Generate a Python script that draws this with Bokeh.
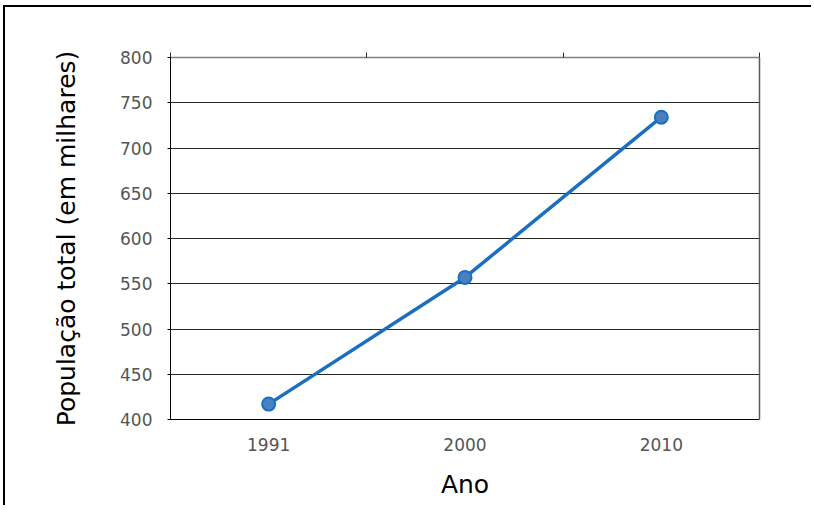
from bokeh.plotting import figure
from bokeh.models import (Range1d, FactorRange, LinearAxis, FixedTicker)
from bokeh.embed import file_html
from bokeh.resources import INLINE

years = ["1991", "2000", "2010"]
population = [417, 557, 734]
y_ticks = [400, 450, 500, 550, 600, 650, 700, 750, 800]

FONT = "DejaVu Sans"

p = figure(width=808, height=500, output_backend="svg", toolbar_location=None,
           x_range=FactorRange(*years, range_padding=0),
           y_range=Range1d(400, 800),
           min_border_left=165, min_border_right=54, min_border_top=50,
           min_border_bottom=88)
p.styles = {"border-top": "2px solid black", "border-left": "2px solid black",
            "margin-left": "3px", "margin-top": "5px"}
p.outline_line_color = None
p.background_fill_color = "white"
p.border_fill_color = "white"

# grid
p.xgrid.grid_line_color = None
p.ygrid.ticker = FixedTicker(ticks=y_ticks)
p.ygrid.grid_line_color = "#262626"
p.ygrid.grid_line_width = 1

# y axis
ya = p.yaxis[0]
ya.ticker = FixedTicker(ticks=y_ticks)
ya.axis_label = "População total (em milhares)"
ya.axis_label_text_font = FONT
ya.axis_label_text_font_size = "25px"
ya.axis_label_text_font_style = "normal"
ya.axis_label_text_color = "black"
ya.axis_label_standoff = 36
ya.major_label_text_font = FONT
ya.major_label_text_font_size = "17px"
ya.major_label_text_color = "#555555"
ya.major_label_standoff = 15
ya.major_tick_out = 3
ya.major_tick_in = 0
ya.minor_tick_line_color = None
ya.axis_line_color = "black"
ya.major_tick_line_color = "black"

# x axis
xa = p.xaxis[0]
xa.axis_label = "Ano"
xa.axis_label_text_font = FONT
xa.axis_label_text_font_size = "25px"
xa.axis_label_text_font_style = "normal"
xa.axis_label_text_color = "black"
xa.axis_label_standoff = 16
xa.major_label_text_font = FONT
xa.major_label_text_font_size = "17px"
xa.major_label_text_color = "#555555"
xa.major_label_standoff = 12
xa.major_tick_line_color = None
xa.axis_line_color = "black"

# top axis with ticks at category boundaries (synthetic coordinates)
bounds = list(range(len(years) + 1))
top = LinearAxis(ticker=FixedTicker(ticks=bounds),
                 major_tick_out=5, major_tick_in=0,
                 major_label_text_alpha=0, major_label_text_font_size="1px",
                 minor_tick_line_color=None,
                 axis_line_color="#7f7f7f", axis_line_width=1.5,
                 major_tick_line_color="#262626")
p.add_layout(top, "above")

# right axis line
right = LinearAxis(ticker=FixedTicker(ticks=[]), major_tick_out=0, major_tick_in=0,
                   major_label_text_font_size="1px", minor_tick_line_color=None,
                   axis_line_color="#5a5a5a", axis_line_width=1.5)
p.add_layout(right, "right")

p.line(years, population, line_color="#1a6fc0", line_width=3.5)
p.scatter(years, population, size=13, fill_color="#4a7fc1",
          line_color="#1a6fc0", line_width=2)

open("out.html", "w").write(file_html(p, INLINE))
